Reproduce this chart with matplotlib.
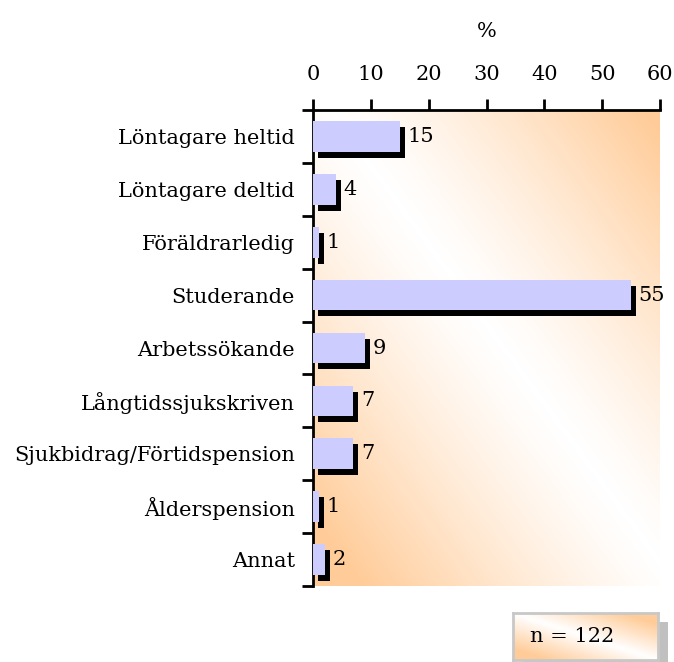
import numpy as np
import matplotlib
matplotlib.use('Agg')
import matplotlib.pyplot as plt
from matplotlib.transforms import ScaledTranslation
from matplotlib.colors import LinearSegmentedColormap

categories = ['Löntagare heltid', 'Löntagare deltid', 'Föräldrarledig', 'Studerande',
              'Arbetssökande', 'Långtidssjukskriven', 'Sjukbidrag/Förtidspension',
              'Ålderspension', 'Annat']
values = [15, 4, 1, 55, 9, 7, 7, 1, 2]
xticks = [0, 10, 20, 30, 40, 50, 60]
n_text = 'n = 122'

plt.rcParams['font.family'] = ['DejaVu Serif']
fs = 15

fig = plt.figure(figsize=(6.74, 6.62), dpi=100)
ax = fig.add_axes([313 / 674, 1 - 586 / 662, 347 / 674, 476 / 662])

# diagonal gradient background: orange corners, white band along the diagonal
cmap = LinearSegmentedColormap.from_list('bg', ['#ffffff', '#ffcc99'])
u, v = np.meshgrid(np.linspace(0, 1, 300), np.linspace(1, 0, 300))
d = np.clip(np.abs(u + v - 1.05) * 1.1, 0, 1) ** 1.25
ax.imshow(d, cmap=cmap, vmin=0, vmax=1, extent=[0, 60, len(categories) - 0.5, -0.5],
          aspect='auto', zorder=0)

y = np.arange(len(categories))
shadow = ax.transData + ScaledTranslation(5 / 100, -6 / 100, fig.dpi_scale_trans)
ax.barh(y, values, height=0.58, color='black', transform=shadow, zorder=2)
ax.barh(y, values, height=0.58, color='#ccccff', zorder=3)
for yi, val in zip(y, values):
    ax.annotate(str(val), (val, yi), xytext=(5.5, 0), textcoords='offset points',
                va='center', ha='left', fontsize=fs, zorder=4)

ax.set_xlim(0, 60)
ax.set_ylim(len(categories) - 0.5, -0.5)
ax.xaxis.tick_top()
ax.xaxis.set_label_position('top')
ax.set_xticks(xticks)
ax.tick_params(axis='x', direction='out', length=8, width=2, pad=11, labelsize=fs)
ax.set_xlabel('%', fontsize=fs, labelpad=20)

ax.set_yticks(y)
ax.set_yticklabels(categories, fontsize=fs)
ax.set_yticks(np.arange(len(categories) + 1) - 0.5, minor=True)
ax.tick_params(axis='y', which='major', length=0, pad=13)
ax.tick_params(axis='y', which='minor', length=8, width=2, direction='out')

for s in ['right', 'bottom']:
    ax.spines[s].set_visible(False)
for s in ['top', 'left']:
    ax.spines[s].set_linewidth(2)

# n box with shadow
sh = fig.add_axes([523 / 674, 1 - 662 / 662, 145 / 674, 40 / 662])
sh.set_facecolor('#c0c0c0')
sh.set_xticks([])
sh.set_yticks([])
for s in sh.spines.values():
    s.set_visible(False)
box = fig.add_axes([513 / 674, 1 - 660 / 662, 145 / 674, 47 / 662])
bu, bv = np.meshgrid(np.linspace(0, 1, 100), np.linspace(1, 0, 100))
bd = np.clip(np.abs(bu + bv - 1.0) * 1.3, 0, 1)
box.imshow(bd, cmap=cmap, vmin=0, vmax=1, extent=[0, 1, 0, 1], aspect='auto')
box.text(0.41, 0.5, n_text, ha='center', va='center', fontsize=fs)
box.set_xlim(0, 1)
box.set_ylim(0, 1)
box.set_xticks([])
box.set_yticks([])
for s in box.spines.values():
    s.set_color('#c8c8c8')
    s.set_linewidth(2)

fig.savefig('out.png', dpi=100)
